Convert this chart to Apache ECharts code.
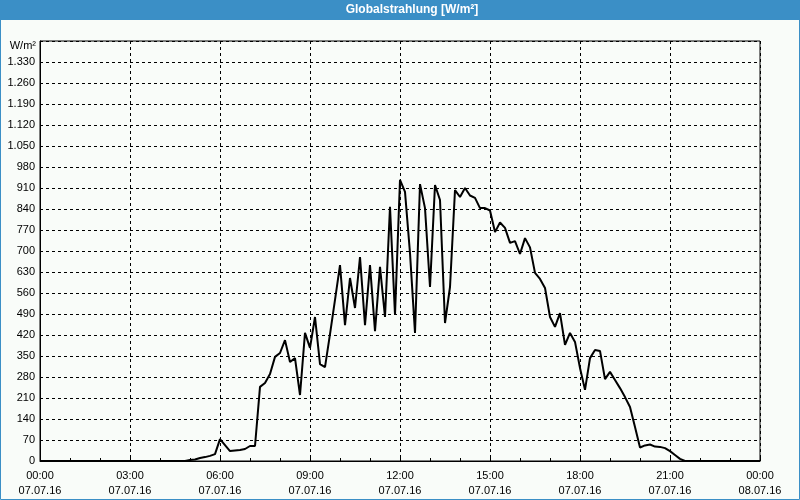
<!DOCTYPE html>
<html>
<head>
<meta charset="utf-8">
<script src="https://cdn.jsdelivr.net/npm/echarts@6/dist/echarts.min.js"></script>
<style>
html,body{margin:0;padding:0;background:#f9fcf9;}
#chart{width:800px;height:500px;}
</style>
</head>
<body>
<div id="chart"></div>
<script>
// Measurement interval (minutes) and values, 07.07.16 00:00 .. 08.07.16 00:00
var stepMinutes = 10;
var values = [
  0,0,0,0,0,0,0,0,0,0, 0,0,0,0,0,0,0,0,0,0, 0,0,0,0,0,0,0,0,0,0,
  3,5,10,13,17,23,73,53,33,35,
  37,40,50,50,247,260,290,347,360,403,
  330,343,220,427,377,480,323,313,423,537,
  653,453,610,510,680,453,653,433,647,480,
  847,487,937,897,693,427,923,843,580,920,
  870,460,580,903,880,910,885,877,843,843,
  835,763,795,777,727,733,690,743,712,627,
  607,577,480,447,493,387,427,397,310,237,
  343,370,367,273,297,270,243,213,180,113,
  45,52,55,48,47,43,33,20,7,0,
  0,0,0,0,0,0,0,0,0,0, 0,0,0,0,0
];
var dayLabels = ['07.07.16', '08.07.16'];
var title = 'Globalstrahlung [W/m²]';
var unit = 'W/m²';

var points = values.map(function(v, i){ return [i * stepMinutes, v]; });

function pad(n){ return (n < 10 ? '0' : '') + n; }
function fmtThousands(v){
  var s = String(v);
  if (s.length > 3) s = s.slice(0, s.length - 3) + '.' + s.slice(s.length - 3);
  return s;
}

var chart = echarts.init(document.getElementById('chart'), null, {renderer:'canvas'});
var font = 'Liberation Sans';
chart.setOption({
  backgroundColor: '#f9fcf9',
  animation: false,
  grid: {left: 40, right: 40, top: 41, bottom: 39, show: true, borderColor: '#000', borderWidth: 1, backgroundColor: 'transparent'},
  graphic: [
    {type:'rect', shape:{x:0, y:0, width:800, height:20}, style:{fill:'#3b8fc6'}, z: 10},
    {type:'rect', shape:{x:0.5, y:0.5, width:799, height:499}, style:{fill:null, stroke:'#3b8fc6', lineWidth:1}, z: 10},
    {type:'text', x: 412, y: 10, style:{text: title, fill:'#fff', font:'bold 12px "Liberation Sans"', textAlign:'center', textVerticalAlign:'middle'}, z: 11},
    {type:'text', x: 36, y: 46, style:{text: unit, fill:'#000', font:'11px "Liberation Sans"', textAlign:'right', textVerticalAlign:'middle'}, z: 11}
  ],
  xAxis: {
    type: 'value', min: 0, max: 1440, interval: 180,
    axisLine: {show: true, lineStyle: {color: '#000', width: 1}},
    axisTick: {show: true, inside: true, length: 3, lineStyle:{color:'#000'}},
    minorTick: {show: true, splitNumber: 3, length: 3, lineStyle:{color:'#000'}},
    splitLine: {show: true, lineStyle: {color: '#000', type: [3,3], width: 1}},
    axisLabel: {
      margin: 7, color: '#000', fontFamily: font, fontSize: 11, lineHeight: 15,
      showMinLabel: true, showMaxLabel: true,
      formatter: function(v){
        var day = Math.floor(v / 1440);
        var h = Math.floor((v % 1440) / 60);
        return pad(h) + ':00\n' + dayLabels[day];
      }
    }
  },
  yAxis: {
    type: 'value', min: 0, max: 1400, interval: 70,
    axisLine: {show: true, lineStyle: {color: '#000', width: 1}},
    axisTick: {show: false},
    splitLine: {show: true, lineStyle: {color: '#000', type: [3,3], width: 1}},
    axisLabel: {
      margin: 5, color: '#000', fontFamily: font, fontSize: 11,
      formatter: function(v){ return v >= 1400 ? '' : fmtThousands(v); }
    }
  },
  series: [{
    type: 'line', data: points, showSymbol: false, symbol: 'none',
    lineStyle: {color: '#000', width: 2}, itemStyle:{color:'#000'},
    z: 5
  }]
});
</script>
</body>
</html>
